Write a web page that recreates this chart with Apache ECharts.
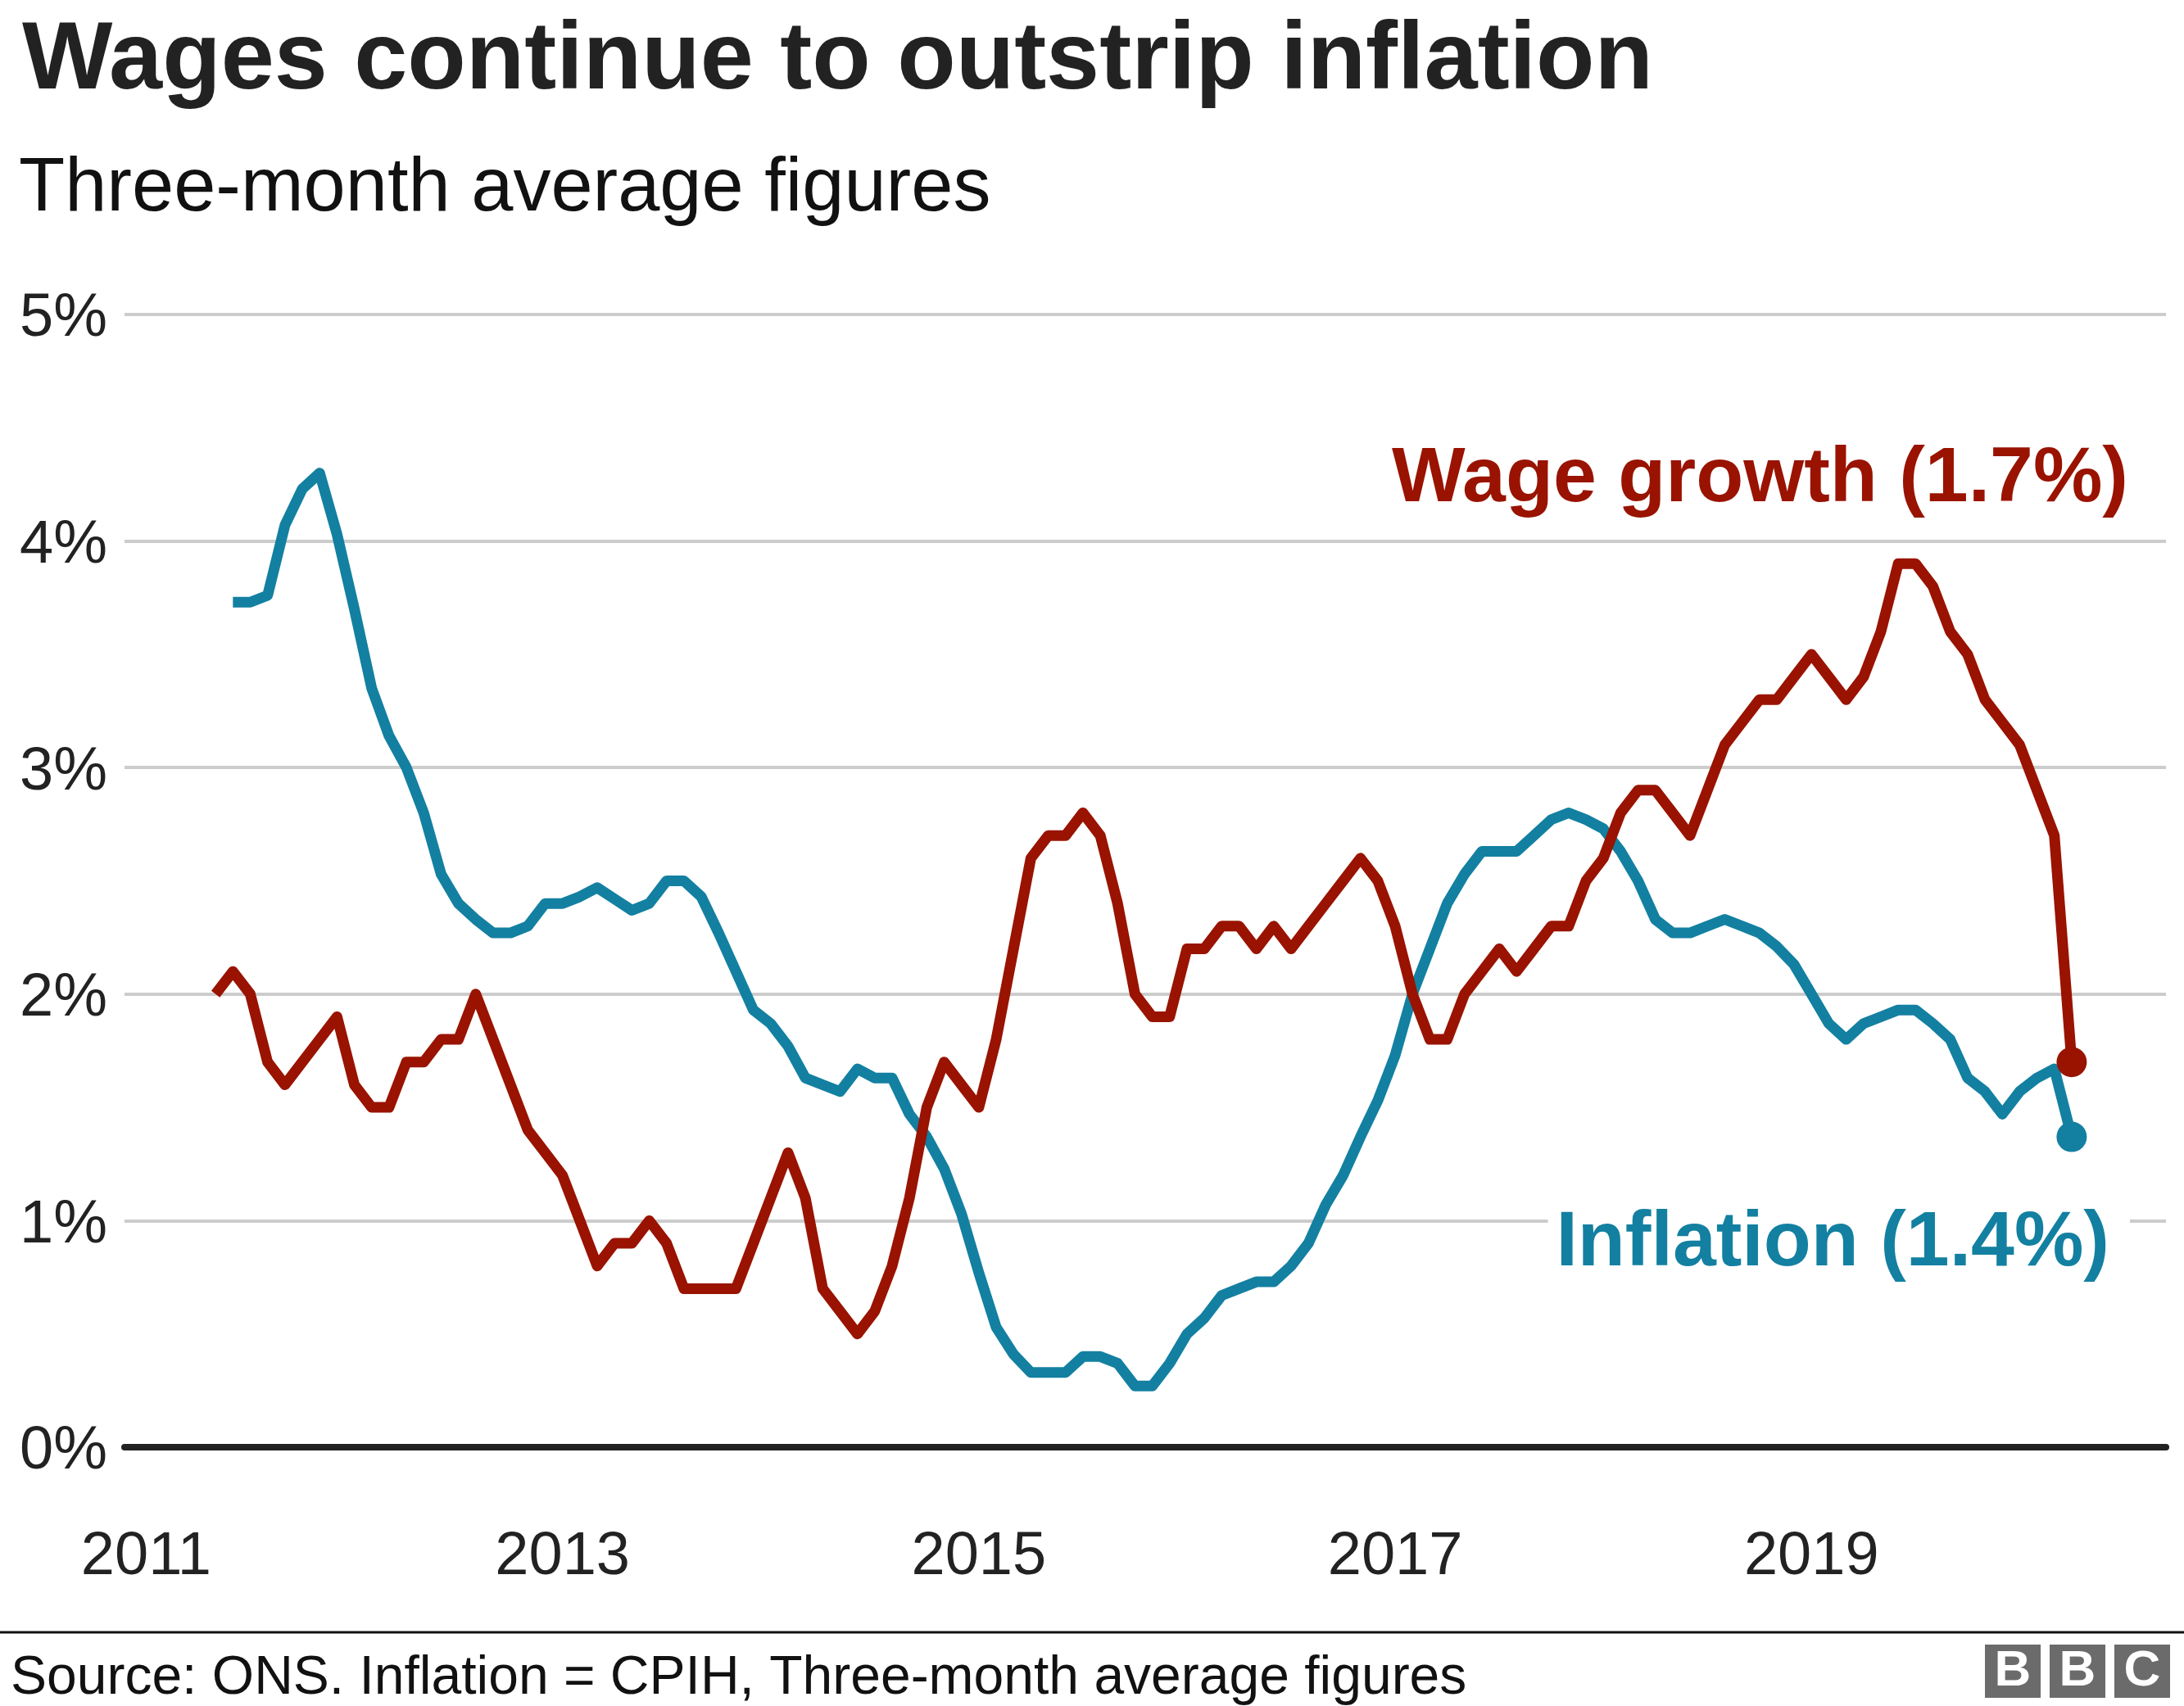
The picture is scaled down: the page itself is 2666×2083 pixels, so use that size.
<!DOCTYPE html>
<html>
<head>
<meta charset="utf-8">
<script src="https://cdn.jsdelivr.net/npm/echarts@6/dist/echarts.min.js"></script>
<style>
  html, body { margin: 0; padding: 0; background: #fff; }
  #chart { width: 2666px; height: 2083px; }
</style>
</head>
<body>
<div id="chart"></div>
<script>
// ---- Data (three-month averages, % growth) ----
const titleText = 'Wages continue to outstrip inflation';
const subtitleText = 'Three-month average figures';
const sourceText = 'Source: ONS. Inflation = CPIH, Three-month average figures';
const wageLabel = 'Wage growth (1.7%)';
const inflationLabel = 'Inflation (1.4%)';

const tickYears = [2011, 2013, 2015, 2017, 2019];
const yTicks = [0, 1, 2, 3, 4, 5];

// first month of each series: [year, month(1-12)]
const wageStart = [2011, 5];       // May 2011 ... Apr 2020
const inflationStart = [2011, 6];  // Jun 2011 ... Apr 2020

const wageGrowth = [
  2.0, 2.1, 2.0, 1.7, 1.6, 1.7, 1.8, 1.9,            // 2011 May-Dec
  1.6, 1.5, 1.5, 1.7, 1.7, 1.8, 1.8, 2.0, 1.8, 1.6, 1.4, 1.3, // 2012
  1.2, 1.0, 0.8, 0.9, 0.9, 1.0, 0.9, 0.7, 0.7, 0.7, 0.7, 0.9, // 2013
  1.1, 1.3, 1.1, 0.7, 0.6, 0.5, 0.6, 0.8, 1.1, 1.5, 1.7, 1.6, // 2014
  1.5, 1.8, 2.2, 2.6, 2.7, 2.7, 2.8, 2.7, 2.4, 2.0, 1.9, 1.9, // 2015
  2.2, 2.2, 2.3, 2.3, 2.2, 2.3, 2.2, 2.3, 2.4, 2.5, 2.6, 2.5, // 2016
  2.3, 2.0, 1.8, 1.8, 2.0, 2.1, 2.2, 2.1, 2.2, 2.3, 2.3, 2.5, // 2017
  2.6, 2.8, 2.9, 2.9, 2.8, 2.7, 2.9, 3.1, 3.2, 3.3, 3.3, 3.4, // 2018
  3.5, 3.4, 3.3, 3.4, 3.6, 3.9, 3.9, 3.8, 3.6, 3.5, 3.3, 3.2, // 2019
  3.1, 2.9, 2.7, 1.7                                  // 2020 Jan-Apr
];

const inflation = [
  3.73, 3.73, 3.76, 4.07, 4.23, 4.30, 4.03,                          // 2011 Jun-Dec
  3.70, 3.35, 3.14, 3.00, 2.80, 2.53, 2.40, 2.33, 2.27, 2.27, 2.30, 2.40, // 2012
  2.40, 2.43, 2.47, 2.42, 2.37, 2.40, 2.50, 2.50, 2.43, 2.27, 2.10, 1.93, // 2013
  1.87, 1.77, 1.63, 1.60, 1.57, 1.67, 1.63, 1.63, 1.47, 1.37, 1.23, 1.03, // 2014
  0.77, 0.53, 0.41, 0.33, 0.33, 0.33, 0.40, 0.40, 0.37, 0.27, 0.27, 0.37, // 2015
  0.50, 0.57, 0.67, 0.70, 0.73, 0.73, 0.80, 0.90, 1.07, 1.20, 1.37, 1.53, // 2016
  1.73, 2.00, 2.20, 2.40, 2.53, 2.63, 2.63, 2.63, 2.70, 2.77, 2.80, 2.77, // 2017
  2.73, 2.63, 2.50, 2.33, 2.27, 2.27, 2.30, 2.33, 2.30, 2.27, 2.21, 2.13, // 2018
  2.00, 1.87, 1.80, 1.87, 1.90, 1.93, 1.93, 1.87, 1.80, 1.63, 1.57, 1.47, // 2019
  1.57, 1.63, 1.67, 1.37                                              // 2020 Jan-Apr
];

// ---- Build series points (x = decimal year of each month) ----
function toPoints(values, start, endSymbolSize) {
  return values.map((v, i) => {
    const monthIndex = (start[1] - 1) + i;
    const x = start[0] + monthIndex / 12;
    const item = { value: [x, v] };
    if (i === values.length - 1) {
      item.symbol = 'circle';
      item.symbolSize = endSymbolSize;
    }
    return item;
  });
}

const FONT = '"Liberation Sans", Arial, Helvetica, sans-serif';
const WAGE_COLOR = '#991300';
const INFL_COLOR = '#1380A1';
const TEXT = '#222222';

const chart = echarts.init(document.getElementById('chart'), null, { renderer: 'canvas' });

const option = {
  backgroundColor: '#ffffff',
  animation: false,
  textStyle: { fontFamily: FONT },
  title: [
    {
      text: titleText, left: 22, top: 12,
      textStyle: { fontFamily: FONT, fontSize: 117, fontWeight: 'bold', color: TEXT, lineHeight: 117 }
    },
    {
      text: subtitleText, left: 18, top: 181,
      textStyle: { fontFamily: FONT, fontSize: 92, fontWeight: 'normal', color: '#111111', lineHeight: 92 }
    },
    {
      text: sourceText, left: 8, top: 2012,
      textStyle: { fontFamily: FONT, fontSize: 66, fontWeight: 'normal', color: '#111111', lineHeight: 66 }
    }
  ],
  grid: {
    left: 152, right: 22, top: 384, bottom: 316,
    containLabel: false, outerBoundsMode: 'none'
  },
  xAxis: {
    type: 'value',
    min: 2010.896, max: 2020.703,
    axisLine: { show: true, onZero: true, lineStyle: { color: TEXT, width: 8 } },
    axisTick: { show: false },
    splitLine: { show: false },
    axisLabel: {
      customValues: tickYears,
      formatter: v => String(v),
      fontFamily: FONT, fontSize: 74, color: TEXT, margin: 98, lineHeight: 74
    }
  },
  yAxis: {
    type: 'value', min: yTicks[0], max: yTicks[yTicks.length - 1], interval: 1,
    axisLine: { show: false },
    axisTick: { show: false },
    splitLine: { show: true, lineStyle: { color: '#cccccc', width: 4 } },
    axisLabel: {
      formatter: '{value}%', align: 'left', margin: 128,
      fontFamily: FONT, fontSize: 74, color: TEXT,
      verticalAlign: 'top', lineHeight: 12
    }
  },
  series: [
    {
      name: 'Inflation', type: 'line',
      data: toPoints(inflation, inflationStart, 37),
      showSymbol: true, symbol: 'none',
      lineStyle: { color: INFL_COLOR, width: 13, join: 'round' },
      itemStyle: { color: INFL_COLOR },
      z: 3
    },
    {
      name: 'Wage growth', type: 'line',
      data: toPoints(wageGrowth, wageStart, 37),
      showSymbol: true, symbol: 'none',
      lineStyle: { color: WAGE_COLOR, width: 13, join: 'round' },
      itemStyle: { color: WAGE_COLOR },
      z: 4
    }
  ],
  graphic: [
    {
      type: 'text', z: 100, x: 2598, y: 586,
      style: {
        text: wageLabel, fill: WAGE_COLOR,
        font: 'bold 95px ' + FONT,
        textAlign: 'right', textVerticalAlign: 'middle'
      }
    },
    {
      type: 'text', z: 100, x: 2600, y: 1519,
      style: {
        text: inflationLabel, fill: INFL_COLOR,
        font: 'bold 95px ' + FONT,
        textAlign: 'right', textVerticalAlign: 'middle',
        backgroundColor: '#ffffff', padding: [4, 25, 4, 10]
      }
    },
    {
      type: 'line', z: 100,
      shape: { x1: 0, y1: 1993, x2: 2666, y2: 1993 },
      style: { stroke: '#111111', lineWidth: 3 }
    },
    { type: 'rect', z: 100, shape: { x: 2423, y: 2008, width: 68, height: 65 }, style: { fill: '#6b6b6b' } },
    { type: 'rect', z: 100, shape: { x: 2502, y: 2008, width: 68, height: 65 }, style: { fill: '#6b6b6b' } },
    { type: 'rect', z: 100, shape: { x: 2581, y: 2008, width: 68, height: 65 }, style: { fill: '#6b6b6b' } },
    { type: 'text', z: 101, x: 2457, y: 2041, style: { text: 'B', fill: '#ffffff', font: 'bold 62px ' + FONT, textAlign: 'center', textVerticalAlign: 'middle' } },
    { type: 'text', z: 101, x: 2536, y: 2041, style: { text: 'B', fill: '#ffffff', font: 'bold 62px ' + FONT, textAlign: 'center', textVerticalAlign: 'middle' } },
    { type: 'text', z: 101, x: 2615, y: 2041, style: { text: 'C', fill: '#ffffff', font: 'bold 62px ' + FONT, textAlign: 'center', textVerticalAlign: 'middle' } }
  ]
};

chart.setOption(option);
</script>
</body>
</html>
